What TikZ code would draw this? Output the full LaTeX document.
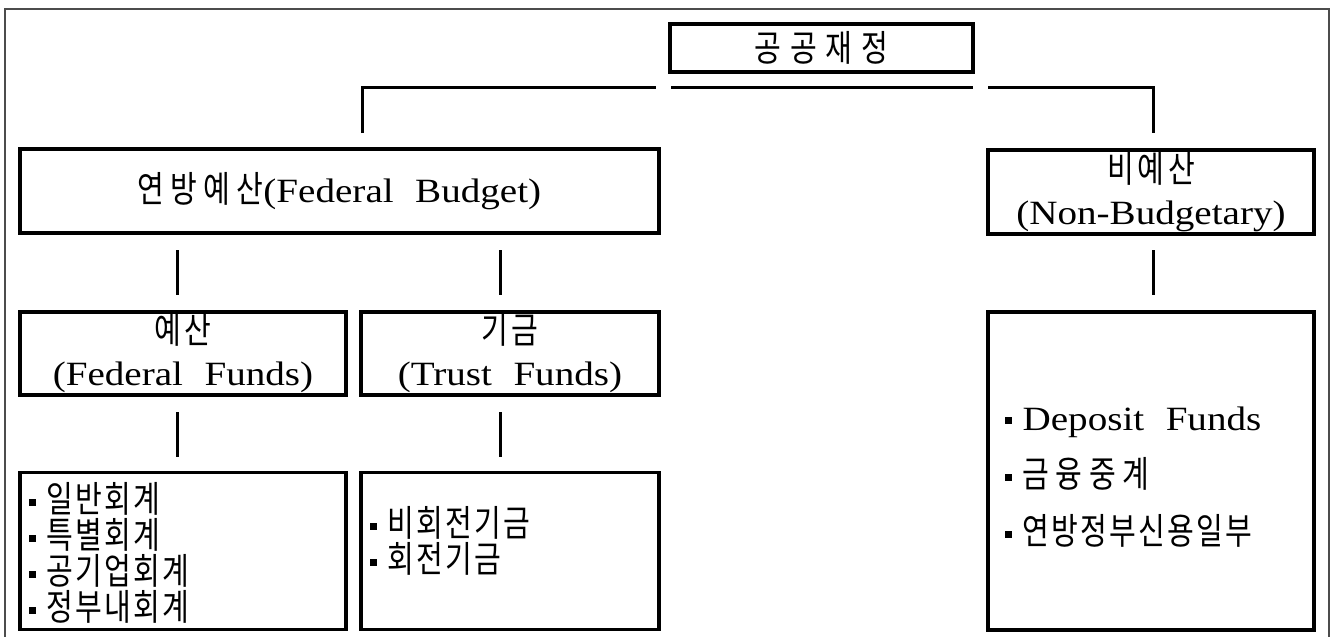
\documentclass[tikz,border=0pt]{standalone}
\usepackage{fontspec}
\setmainfont{Liberation Serif}[FakeStretch=1.15,WordSpace=2.2]
\newfontfamily\krfont{Noto Sans CJK KR}[Scale=1.07,FakeStretch=0.8,LetterSpace=6]
\newcommand{\sqbul}{\raisebox{0.2em}{\rule{7pt}{7pt}}\hspace{11pt}}
\begin{document}
\begin{tikzpicture}[x=1pt,y=-1pt,
  box/.style={draw, line width=3.2pt, inner sep=0pt, align=center},
  conn/.style={line width=3pt},
  frm/.style={line width=1.8pt, draw=black!70},
  txt/.style={font=\fontsize{34}{42}\selectfont},
  lst/.style={font=\fontsize{34}{36}\selectfont, align=left, anchor=west, inner sep=0pt}]
\useasboundingbox (0,0) rectangle (1336,637);
\draw[frm] (5,640) -- (5,9) -- (1329,9) -- (1329,640);
% boxes
\node[box, txt, minimum width=303pt, minimum height=48pt] (pub) at (821.5,48) {\krfont\addfontfeatures{LetterSpace=24}공공재정};
\node[box, txt, minimum width=639pt, minimum height=84pt] (fed) at (339.5,191) {{\krfont\addfontfeatures{LetterSpace=17}연방예산}(Federal Budget)};
\node[box, txt, minimum width=326pt, minimum height=84pt] (non) at (1151,192) {{\krfont\addfontfeatures{LetterSpace=10}비예산}\\(Non-Budgetary)};
\node[box, txt, minimum width=326pt, minimum height=83pt] (ffd) at (183,353.5) {{\krfont\addfontfeatures{LetterSpace=10}예산}\\(Federal Funds)};
\node[box, txt, minimum width=298pt, minimum height=83pt] (tfd) at (510,353.5) {{\krfont\addfontfeatures{LetterSpace=10}기금}\\(Trust Funds)};
\node[box, minimum width=326pt, minimum height=157pt] (gen) at (183,551) {};
\node[box, minimum width=298pt, minimum height=157pt] (trl) at (510,551) {};
\node[box, minimum width=326pt, minimum height=318pt] (dep) at (1151,471) {};
% list texts
\node[lst] (genl) at ([xshift=10pt,yshift=-2pt]gen.west) {\sqbul{\krfont 일반회계}\\\sqbul{\krfont 특별회계}\\\sqbul{\krfont 공기업회계}\\\sqbul{\krfont 정부내회계}};
\node[lst] (trll) at ([xshift=10pt,yshift=10pt]trl.west) {\sqbul{\krfont 비회전기금}\\\sqbul{\krfont 회전기금}};
\node[lst, font=\fontsize{34}{57}\selectfont] (depl) at ([xshift=18pt,yshift=-6pt]dep.west) {\sqbul Deposit Funds\\\sqbul{\krfont\addfontfeatures{LetterSpace=18}금융중계}\\\sqbul{\krfont 연방정부신용일부}};
% connectors
\coordinate (a1) at (362,87); \coordinate (a2) at (656,87); \coordinate (a3) at (362,133);
\coordinate (b1) at (671,87); \coordinate (b2) at (973,87);
\coordinate (c1) at (988,87); \coordinate (c2) at (1153,87); \coordinate (c3) at (1153,133);
\draw[conn] (a3) -- (a1) -- (a2);
\draw[conn] (b1) -- (b2);
\draw[conn] (c1) -- (c2) -- (c3);
\coordinate (d1) at (177,250); \coordinate (d2) at (177,295);
\coordinate (e1) at (500,250); \coordinate (e2) at (500,295);
\coordinate (f1) at (1153,250); \coordinate (f2) at (1153,295);
\coordinate (g1) at (177,412); \coordinate (g2) at (177,457);
\coordinate (h1) at (500,412); \coordinate (h2) at (500,457);
\draw[conn] (d1) -- (d2);
\draw[conn] (e1) -- (e2);
\draw[conn] (f1) -- (f2);
\draw[conn] (g1) -- (g2);
\draw[conn] (h1) -- (h2);
\end{tikzpicture}
\end{document}
